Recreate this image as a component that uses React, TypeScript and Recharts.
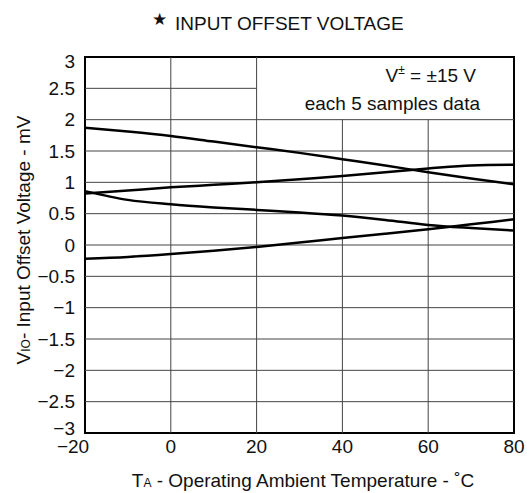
import { LineChart, Line, XAxis, YAxis, ReferenceLine, ReferenceArea } from 'recharts'

// temperatures (°C) and the four sample curves (mV)
const temps = [-20, -10, 0, 10, 20, 30, 40, 50, 60, 70, 80]
const sampleA = [1.87, 1.81, 1.74, 1.65, 1.56, 1.47, 1.37, 1.27, 1.16, 1.06, 0.97]
const sampleB = [0.82, 0.87, 0.92, 0.96, 1.0, 1.05, 1.1, 1.16, 1.22, 1.27, 1.28]
const sampleC = [0.86, 0.72, 0.65, 0.6, 0.56, 0.52, 0.47, 0.4, 0.32, 0.27, 0.23]
const sampleD = [-0.22, -0.19, -0.145, -0.09, -0.03, 0.04, 0.11, 0.18, 0.25, 0.33, 0.41]

const xTicks = [-20, 0, 20, 40, 60, 80]
const yTicks = [-3, -2.5, -2, -1.5, -1, -0.5, 0, 0.5, 1, 1.5, 2, 2.5, 3]

const data = temps.map((t, i) => ({ t, a: sampleA[i], b: sampleB[i], c: sampleC[i], d: sampleD[i] }))

const FONT = '"Liberation Sans", Arial, Helvetica, sans-serif'
const fmt = (v: number) => String(v).replace('-', '\u2212')

const XTick = ({ x, y, payload }: any) => (
  <text x={x + (payload.value === -20 ? -12 : 0)} y={y} dy="0.71em" textAnchor="middle"
    fontSize={19} fontFamily={FONT} fill="#111">{fmt(payload.value)}</text>
)

const YTick = ({ x, y, payload }: any) => {
  const shift = payload.value === 3 ? 4 : payload.value === -3 ? -5 : 0
  return (
    <text x={x} y={y + shift} dy="0.355em" textAnchor="end" fontSize={19} fontFamily={FONT} fill="#111">
      {fmt(payload.value)}
    </text>
  )
}

const GRID = '#444'

export default function App() {
  return (
    <div style={{ position: 'absolute', left: 0, top: 0, width: 527, height: 493, background: '#fff' }}>
      <LineChart width={527} height={493} data={data} margin={{ top: 57, right: 13, bottom: 30, left: 25 }}>
        <XAxis type="number" dataKey="t" domain={[-20, 80]} ticks={xTicks} axisLine={false} tickLine={false}
          tickSize={0} tickMargin={7} height={30} tick={<XTick />} />
        <YAxis type="number" domain={[-3, 3]} ticks={yTicks} axisLine={false} tickLine={false}
          tickSize={0} tickMargin={10} width={60} tick={<YTick />} />
        {yTicks.filter(v => v > -3 && v < 3 && v !== 2.5).map(v => (
          <ReferenceLine key={'h' + v} y={v} stroke={GRID} strokeWidth={1} />
        ))}
        <ReferenceLine segment={[{ x: -20, y: 2.5 }, { x: 20, y: 2.5 }]} stroke={GRID} strokeWidth={1} />
        <ReferenceLine x={0} stroke={GRID} strokeWidth={1} />
        <ReferenceLine x={20} stroke={GRID} strokeWidth={1} />
        <ReferenceLine segment={[{ x: 40, y: -3 }, { x: 40, y: 2 }]} stroke={GRID} strokeWidth={1} />
        <ReferenceLine segment={[{ x: 60, y: -3 }, { x: 60, y: 2 }]} stroke={GRID} strokeWidth={1} />
        <ReferenceArea x1={-20} x2={80} y1={-3} y2={3} fill="none" stroke="#000" strokeWidth={2} />
        <Line type="monotone" dataKey="a" stroke="#000" strokeWidth={2.5} dot={false} isAnimationActive={false} />
        <Line type="monotone" dataKey="b" stroke="#000" strokeWidth={2.5} dot={false} isAnimationActive={false} />
        <Line type="monotone" dataKey="c" stroke="#000" strokeWidth={2.5} dot={false} isAnimationActive={false} />
        <Line type="monotone" dataKey="d" stroke="#000" strokeWidth={2.5} dot={false} isAnimationActive={false} />
      </LineChart>
      <svg width={527} height={493} style={{ position: 'absolute', left: 0, top: 0, pointerEvents: 'none' }}
        fontFamily={FONT} fill="#111">
        <text x={152} y={25} fontSize={17}>★</text>
        <text x={175} y={30} fontSize={19}>INPUT OFFSET VOLTAGE</text>
        <text x={476} y={82} fontSize={19} textAnchor="end">
          V<tspan fontSize={12} dy={-8}>±</tspan><tspan dy={8}> = ±15 V</tspan>
        </text>
        <text x={480} y={110} fontSize={19} textAnchor="end">each 5 samples data</text>
        <text x={303} y={487} fontSize={19} textAnchor="middle">
          T<tspan fontSize={12}>A</tspan> - Operating Ambient Temperature - ˚C
        </text>
        <text x={30} y={240} fontSize={19} textAnchor="middle" transform="rotate(-90 30 240)">
          V<tspan fontSize={12}>IO</tspan>- Input Offset Voltage - mV
        </text>
      </svg>
    </div>
  )
}
